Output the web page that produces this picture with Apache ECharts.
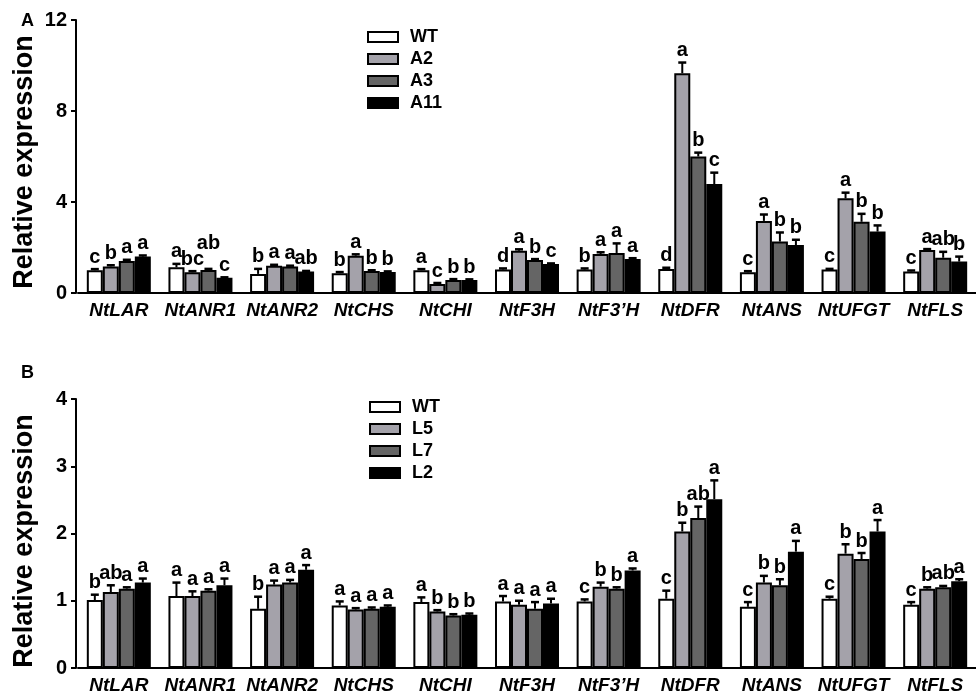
<!DOCTYPE html>
<html>
<head>
<meta charset="utf-8">
<script src="https://cdn.jsdelivr.net/npm/echarts@6/dist/echarts.min.js"></script>
<style>html,body{margin:0;padding:0;background:#fff;}#c{width:976px;height:695px;}</style>
</head>
<body>
<div id="c"></div>
<script>
const categories = ['NtLAR','NtANR1','NtANR2','NtCHS','NtCHI','NtF3H','NtF3\u2019H','NtDFR','NtANS','NtUFGT','NtFLS'];

const seriesNamesA = ['WT','A2','A3','A11'];
const A_WT  = [1.00,1.13,0.84,0.87,1.00,1.03,1.03,1.06,0.91,1.03,0.95];
const A_A2  = [1.17,0.91,1.20,1.64,0.40,1.86,1.71,9.66,3.17,4.16,1.89];
const A_A3  = [1.41,1.01,1.17,0.97,0.57,1.45,1.76,6.00,2.26,3.13,1.55];
const A_A11 = [1.60,0.67,0.94,0.92,0.57,1.27,1.50,4.79,2.11,2.70,1.38];
const A_WT_err  = [0.05,0.15,0.22,0.05,0.05,0.05,0.05,0.05,0.05,0.03,0.04];
const A_A2_err  = [0.05,0.05,0.04,0.06,0.04,0.06,0.08,0.47,0.28,0.25,0.04];
const A_A3_err  = [0.05,0.05,0.03,0.03,0.04,0.04,0.42,0.17,0.40,0.35,0.26];
const A_A11_err = [0.05,0.02,0.03,0.03,0.03,0.03,0.03,0.50,0.23,0.27,0.22];
const A_WT_sig  = ['c','a','b','b','a','d','b','d','c','c','c'];
const A_A2_sig  = ['b','bc','a','a','c','a','a','a','a','a','a'];
const A_A3_sig  = ['a','ab','a','b','b','b','a','b','b','b','ab'];
const A_A11_sig = ['a','c','ab','b','b','c','a','c','b','b','b'];

const seriesNamesB = ['WT','L5','L7','L2'];
const B_WT = [1.01,1.07,0.88,0.93,0.98,0.99,0.99,1.03,0.91,1.03,0.94];
const B_L5 = [1.13,1.07,1.24,0.87,0.84,0.94,1.21,2.03,1.27,1.70,1.18];
const B_L7 = [1.18,1.15,1.27,0.88,0.78,0.88,1.18,2.23,1.23,1.62,1.20];
const B_L2 = [1.27,1.23,1.46,0.91,0.79,0.96,1.45,2.51,1.73,2.03,1.29];
const B_WT_err = [0.08,0.20,0.18,0.06,0.07,0.08,0.03,0.12,0.07,0.03,0.04];
const B_L5_err = [0.10,0.07,0.06,0.02,0.02,0.06,0.06,0.13,0.10,0.14,0.02];
const B_L7_err = [0.02,0.02,0.04,0.02,0.02,0.10,0.02,0.17,0.09,0.09,0.02];
const B_L2_err = [0.06,0.10,0.07,0.02,0.02,0.07,0.03,0.28,0.16,0.17,0.03];
const B_WT_sig = ['b','a','b','a','a','a','c','c','c','c','c'];
const B_L5_sig = ['ab','a','a','a','b','a','b','b','b','b','b'];
const B_L7_sig = ['a','a','a','a','b','a','b','ab','b','b','ab'];
const B_L2_sig = ['a','a','a','a','b','a','a','a','a','a','a'];

const yTicksA = {min:0, max:12, interval:4};
const yTicksB = {min:0, max:4, interval:1};
const yTitle = 'Relative expression';

const FONT = "'Liberation Sans', Arial, sans-serif";
const SIG_FONT = 'bold 20px ' + FONT;
const colors = ['#ffffff','#a4a2aa','#656565','#000000'];
const BAR_W = 16;

const measureCtx = document.createElement('canvas').getContext('2d');
measureCtx.font = SIG_FONT;
const textW = s => measureCtx.measureText(s).width;

const panelA = {names: seriesNamesA, vals:[A_WT,A_A2,A_A3,A_A11], errs:[A_WT_err,A_A2_err,A_A3_err,A_A11_err], sigs:[A_WT_sig,A_A2_sig,A_A3_sig,A_A11_sig]};
const panelB = {names: seriesNamesB, vals:[B_WT,B_L5,B_L7,B_L2], errs:[B_WT_err,B_L5_err,B_L7_err,B_L2_err], sigs:[B_WT_sig,B_L5_sig,B_L7_sig,B_L2_sig]};

// Place significance letters above error bars; raise a letter if it collides with the previous ones.
function labelBottoms(p, ci, api) {
  const boxes = [];
  const H = 15, GAP = 6, TOL = 4;
  for (let si = 0; si < 4; si++) {
    const v = p.vals[si][ci], e = p.errs[si][ci];
    const t = api.coord([ci, v + e]);
    const x = t[0] + (si - 1.5) * BAR_W;
    const w = textW(p.sigs[si][ci]);
    let bottom = t[1] - GAP;
    let moved = true;
    while (moved) {
      moved = false;
      for (const b of boxes) {
        const hov = Math.min(x + w / 2, b.x1) - Math.max(x - w / 2, b.x0);
        const vov = Math.min(bottom, b.bottom) - Math.max(bottom - H, b.bottom - H);
        if (hov > TOL && vov > 0) { bottom = b.bottom - H - 1; moved = true; }
      }
    }
    boxes.push({x0: x - w / 2, x1: x + w / 2, bottom: bottom});
  }
  return boxes.map(b => b.bottom);
}

const series = [];
[panelA, panelB].forEach((p, pi) => {
  p.names.forEach((n, si) => {
    series.push({
      name: n, type: 'bar', xAxisIndex: pi, yAxisIndex: pi,
      data: p.vals[si], barWidth: BAR_W, barGap: '0%',
      itemStyle: {color: colors[si], borderColor: '#000', borderWidth: 2},
      emphasis: {disabled: true}, animation: false, z: 2
    });
  });
  p.names.forEach((n, si) => {
    const off = (si - 1.5) * BAR_W;
    const sig = p.sigs[si];
    series.push({
      name: 'err' + pi + si, type: 'custom', xAxisIndex: pi, yAxisIndex: pi,
      data: p.vals[si].map((v, i) => [i, v, p.errs[si][i]]),
      clip: false, animation: false, z: 5, silent: true,
      renderItem: (params, api) => {
        const ci = api.value(0), v = api.value(1), e = api.value(2);
        const b = api.coord([ci, v]);
        const t = api.coord([ci, v + e]);
        const x = b[0] + off;
        const lb = labelBottoms(p, ci, api)[si];
        return {type: 'group', children: [
          {type: 'line', shape: {x1: x, y1: b[1], x2: x, y2: t[1]}, style: {stroke: '#000', lineWidth: 2}},
          {type: 'line', shape: {x1: x - 4, y1: t[1], x2: x + 4, y2: t[1]}, style: {stroke: '#000', lineWidth: 2.5}},
          {type: 'text', x: x, y: lb + 4, style: {text: sig[params.dataIndex], align: 'center', verticalAlign: 'bottom', font: SIG_FONT, fill: '#000'}}
        ]};
      }
    });
  });
});

function xAxis(gi) {
  return {
    type: 'category', gridIndex: gi, data: categories,
    axisLine: {lineStyle: {color: '#000', width: 2}},
    axisTick: {show: false},
    axisLabel: {color: '#000', fontFamily: FONT, fontWeight: 'bold', fontStyle: 'italic', fontSize: 19, margin: 8, interval: 0}
  };
}
function yAxis(gi, t) {
  return {
    type: 'value', gridIndex: gi, min: t.min, max: t.max, interval: t.interval, offset: 2,
    axisLine: {show: true, lineStyle: {color: '#000', width: 2}},
    axisTick: {show: true, length: 5, lineStyle: {color: '#000', width: 2}},
    axisLabel: {color: '#000', fontFamily: FONT, fontWeight: 'bold', fontSize: 20, margin: 9},
    splitLine: {show: false}
  };
}
function legend(names, left, top) {
  return {
    data: names, orient: 'vertical', left: left, top: top, itemWidth: 30, itemHeight: 10, itemGap: 4,
    icon: 'rect', selectedMode: false,
    itemStyle: {borderColor: '#000', borderWidth: 2},
    textStyle: {color: '#000', fontFamily: FONT, fontWeight: 'bold', fontSize: 18, lineHeight: 18, padding: [0, 0, 0, 7]}
  };
}
function vTitle(cx, cy) {
  return {type: 'text', x: cx, y: cy, rotation: Math.PI / 2,
    style: {text: yTitle, font: 'bold 27px ' + FONT, fill: '#000', align: 'center', verticalAlign: 'middle'}};
}

const chart = echarts.init(document.getElementById('c'), null, {renderer: 'canvas'});
chart.setOption({
  backgroundColor: '#fff',
  animation: false,
  grid: [
    {left: 78, width: 904, top: 20, height: 273, containLabel: false},
    {left: 78, width: 904, top: 399, height: 272, containLabel: false}
  ],
  xAxis: [xAxis(0), xAxis(1)],
  yAxis: [yAxis(0, yTicksA), yAxis(1, yTicksB)],
  legend: [legend(seriesNamesA, 362, 23), legend(seriesNamesB, 364, 393)],
  graphic: [
    {type: 'text', left: 21, top: 12, style: {text: 'A', font: 'bold 18px ' + FONT, fill: '#000'}},
    {type: 'text', left: 21, top: 364, style: {text: 'B', font: 'bold 18px ' + FONT, fill: '#000'}},
    vTitle(25, 162),
    vTitle(25, 541)
  ],
  series: series
});
</script>
</body>
</html>
